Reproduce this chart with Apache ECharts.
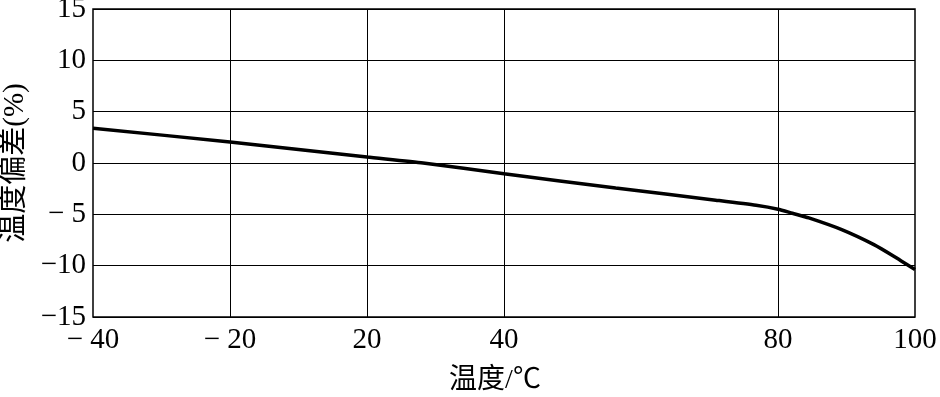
<!DOCTYPE html>
<html>
<head>
<meta charset="utf-8">
<script src="https://cdn.jsdelivr.net/npm/echarts@6/dist/echarts.min.js"></script>
<style>
html,body{margin:0;padding:0;background:#fff;}
#chart{width:940px;height:397px;}
</style>
</head>
<body>
<div id="chart"></div>
<script>
// Temperature tick labels (non-uniformly spaced in the original figure)
const xTickTemps = [-40, -20, 20, 40, 80, 100];
const xTickLabels = ['\u2212 40', '\u2212 20', '20', '40', '80', '100'];
const yTickValues = [-15, -10, -5, 0, 5, 10, 15];
const yTickLabels = ['\u221215', '\u221210', '\u2212 5', '0', '5', '10', '15'];

// Curve: temperature (°C) vs. deviation (%)
const temps = [-40, -20, 20, 28.2, 40, 56.3, 70.9, 76.8, 80, 82.1, 84.5, 89.3, 94, 96.9, 100];
const deviation = [3.38, 2.05, 0.58, 0, -1.05, -2.43, -3.62, -4.12, -4.5, -4.9, -5.35, -6.49, -7.95, -9.08, -10.38];

const xName = '温度/℃';
const yName = '温度偏差(%)';

// grid slot of each tick label on the axis (slot 4 has no gridline)
const slots = [0, 1, 2, 3, 5, 6];
function tempToSlot(t) {
  for (let i = 0; i < xTickTemps.length - 1; i++) {
    const a = xTickTemps[i], b = xTickTemps[i + 1];
    if (t >= a && t <= b) return slots[i] + (t - a) / (b - a) * (slots[i + 1] - slots[i]);
  }
  return t < xTickTemps[0] ? slots[0] : slots[slots.length - 1];
}
const seriesData = temps.map((t, i) => [tempToSlot(t), deviation[i]]);

const serif = '"Liberation Serif", "Times New Roman", "Noto Sans CJK SC", serif';
const chart = echarts.init(document.getElementById('chart'), null, {renderer: 'canvas'});
chart.setOption({
  animation: false,
  backgroundColor: '#fff',
  grid: {left: 93, right: 25, top: 9, bottom: 80, show: true, borderColor: '#000', borderWidth: 1.5,
         containLabel: false, outerBoundsMode: 'none'},
  xAxis: {
    type: 'value', min: 0, max: 6, interval: 1,
    name: xName, nameLocation: 'middle', nameGap: 50,
    nameTextStyle: {fontFamily: serif, fontSize: 28, color: '#000', padding: [0, 18, 0, 0]},
    axisLine: {show: false}, axisTick: {show: false}, splitLine: {show: false},
    axisLabel: {
      margin: 9, color: '#000', fontFamily: serif, fontSize: 29,
      formatter: v => { const k = slots.indexOf(Math.round(v)); return (k >= 0 && Math.abs(v - Math.round(v)) < 1e-6) ? xTickLabels[k] : ''; }
    }
  },
  yAxis: {
    type: 'value', min: -15, max: 15, interval: 5,
    name: yName, nameLocation: 'middle', nameGap: 60, nameRotate: 90,
    nameTextStyle: {fontFamily: serif, fontSize: 29, color: '#000'},
    axisLine: {show: false}, axisTick: {show: false},
    splitLine: {show: true, lineStyle: {color: '#000', width: 1}},
    axisLabel: {
      margin: 7, color: '#000', fontFamily: serif, fontSize: 29,
      formatter: v => { const k = yTickValues.indexOf(v); return k >= 0 ? yTickLabels[k] : ''; }
    }
  },
  series: [{
    type: 'line',
    data: seriesData,
    smooth: 0.2,
    showSymbol: false,
    lineStyle: {color: '#000', width: 3.5},
    markLine: {
      silent: true, symbol: 'none', label: {show: false},
      lineStyle: {color: '#000', width: 1, type: 'solid'},
      data: slots.slice(1, -1).map(s => ({xAxis: s}))
    }
  }]
});
</script>
</body>
</html>
